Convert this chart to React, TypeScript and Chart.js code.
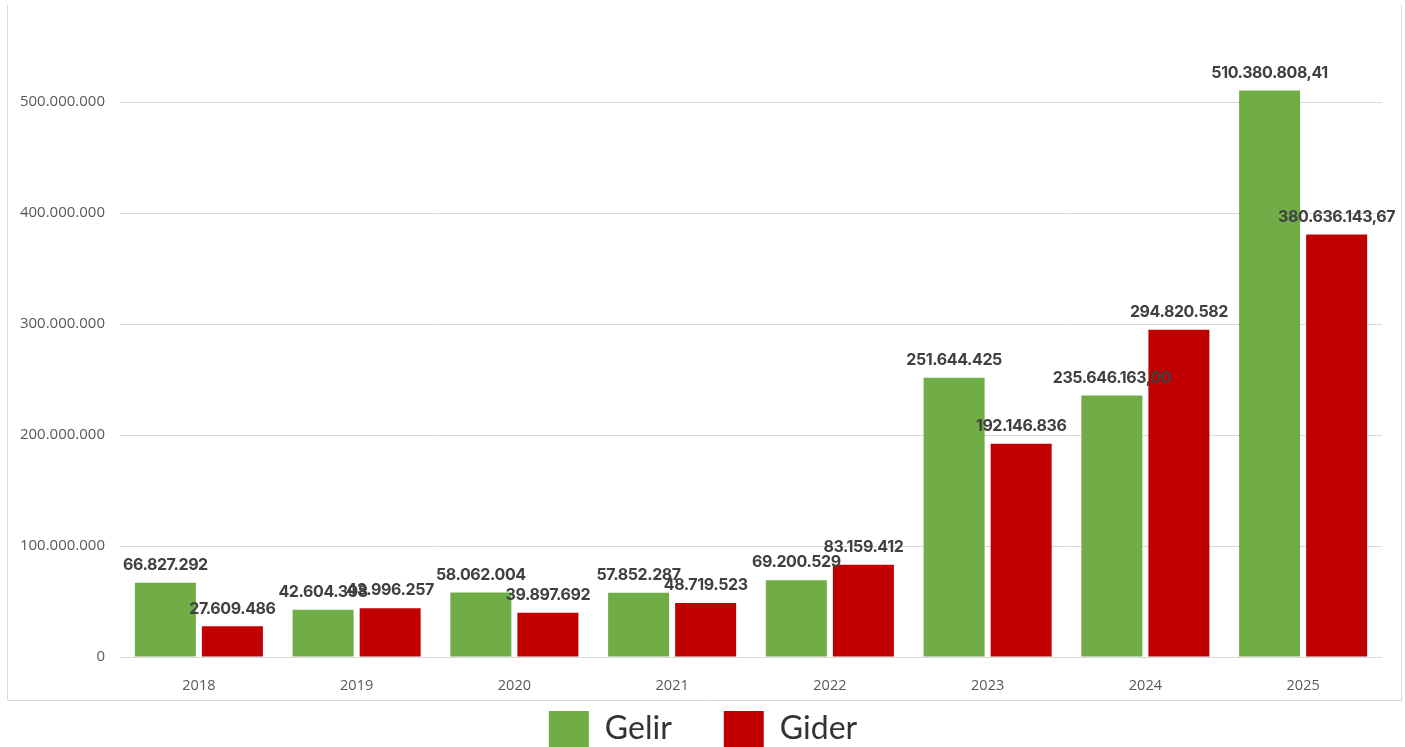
import React, { useEffect, useRef } from "react";
import { Chart, registerables } from "chart.js";

Chart.register(...registerables);

const categories = ["2018", "2019", "2020", "2021", "2022", "2023", "2024", "2025"];
const gelirValues = [66827292, 42604398, 58062004, 57852287, 69200529, 251644425, 235646163.0, 510380808.41];
const giderValues = [27609486, 43996257, 39897692, 48719523, 83159412, 192146836, 294820582, 380636143.67];
const gelirLabels = ["66.827.292", "42.604.398", "58.062.004", "57.852.287", "69.200.529", "251.644.425", "235.646.163,00", "510.380.808,41"];
const giderLabels = ["27.609.486", "43.996.257", "39.897.692", "48.719.523", "83.159.412", "192.146.836", "294.820.582", "380.636.143,67"];
const yTickValues = [0, 100000000, 200000000, 300000000, 400000000, 500000000];
const yTickLabels = ["0", "100.000.000", "200.000.000", "300.000.000", "400.000.000", "500.000.000"];
const seriesNames = ["Gelir", "Gider"];
const seriesColors = ["#70ad47", "#c00000"];

const framePlugin = {
  id: "frame",
  beforeDraw(chart: any) {
    const ctx = chart.ctx;
    ctx.save();
    ctx.strokeStyle = "#d9d9d9";
    ctx.lineWidth = 1;
    ctx.beginPath();
    ctx.moveTo(7.5, 5);
    ctx.lineTo(7.5, 700.5);
    ctx.lineTo(1401.5, 700.5);
    ctx.lineTo(1401.5, 5);
    ctx.stroke();
    ctx.restore();
    if (chart.legend) {
      chart.legend.top = 711 - 52;
      chart.legend.left = 12;
      chart.legend.right = 1405 - 11;
    }
  },
};

const labelPlugin = {
  id: "valueLabels",
  afterDatasetsDraw(chart: any) {
    const ctx = chart.ctx;
    const lbls = [gelirLabels, giderLabels];
    ctx.save();
    ctx.font = "bold 16px Inter";
    (ctx as any).letterSpacing = "-0.4px";
    ctx.fillStyle = "#404040";
    ctx.textAlign = "center";
    ctx.textBaseline = "middle";
    chart.data.datasets.forEach((ds: any, di: number) => {
      const meta = chart.getDatasetMeta(di);
      meta.data.forEach((el: any, i: number) => {
        ctx.fillText(lbls[di][i], el.x, el.y - 17.5);
      });
    });
    ctx.restore();
  },
};

export default function App() {
  const ref = useRef<HTMLCanvasElement>(null);
  useEffect(() => {
    if (!ref.current) return;
    const chart = new Chart(ref.current, {
      type: "bar",
      data: {
        labels: categories,
        datasets: [
          { label: seriesNames[0], data: gelirValues, backgroundColor: seriesColors[0] },
          { label: seriesNames[1], data: giderValues, backgroundColor: seriesColors[1] },
        ],
      },
      plugins: [framePlugin, labelPlugin],
      options: {
        responsive: false,
        animation: false,
        layout: { padding: { left: 0, right: 23, top: 46.5, bottom: 0 } },
        datasets: { bar: { categoryPercentage: 0.85, barPercentage: 0.91 } },
        plugins: {
          tooltip: { enabled: false },
          legend: {
            position: "bottom",
            maxHeight: 47,
            labels: {
              boxWidth: 40,
              boxHeight: 36,
              padding: 52,
              color: "#333333",
              font: { family: "Lato", size: 32 },
            },
          },
        },
        scales: {
          x: {
            grid: { display: false },
            border: { display: false },
            ticks: { color: "#595959", font: { family: "Open Sans", size: 14.5 }, padding: 12 },
            afterFit(scale: any) {
              scale.height = 43;
            },
          },
          y: {
            min: 0,
            max: 550000000,
            border: { display: false },
            grid: { color: "#d9d9d9", drawTicks: false },
            ticks: {
              color: "#595959",
              font: { family: "Open Sans", size: 15 },
              padding: 15,
              callback: (v: any) => {
                const idx = yTickValues.indexOf(Number(v));
                return idx >= 0 ? yTickLabels[idx] : "";
              },
            },
            afterBuildTicks(scale: any) {
              scale.ticks = yTickValues.map((v) => ({ value: v }));
            },
            afterFit(scale: any) {
              scale.width = 120;
            },
          },
        },
      },
    } as any);
    return () => chart.destroy();
  }, []);
  return (
    <div style={{ position: "absolute", left: 0, top: 0, width: 1405, height: 747 }}>
      <canvas ref={ref} width={1405} height={747} style={{ width: 1405, height: 747 }} />
    </div>
  );
}
